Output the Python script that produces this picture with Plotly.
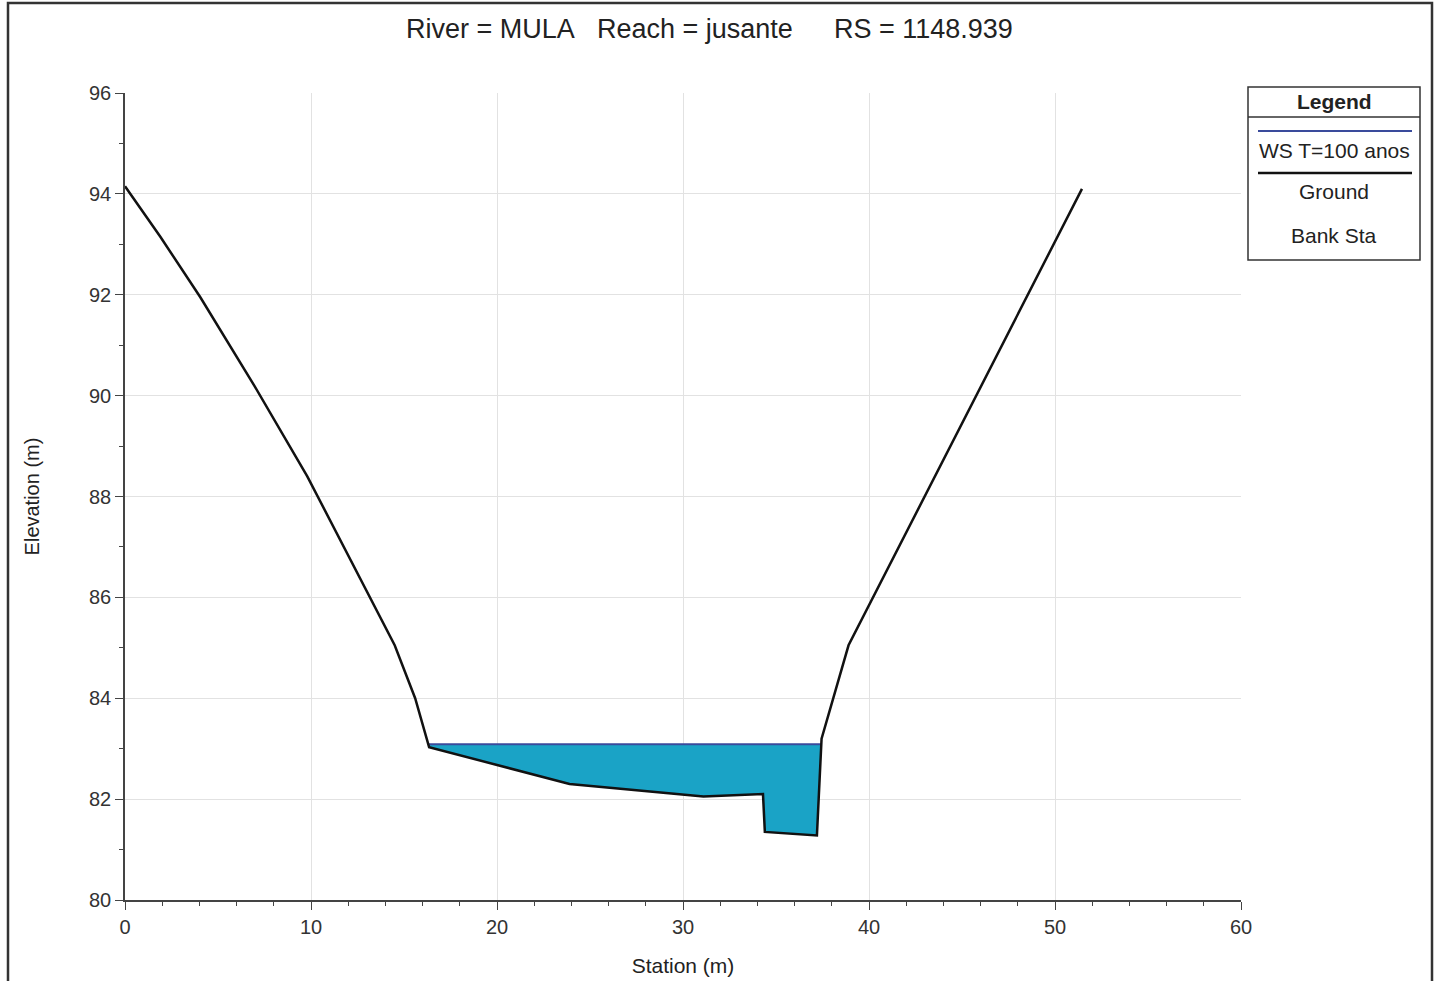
import plotly.graph_objects as go

# cross-section RS 1148.939
station = [0, 1.9, 4.05, 6.95, 9.8, 14.5, 15.6, 16.35, 23.9, 31.1, 34.3, 34.4, 37.2, 37.45, 38.9, 51.45]
elevation = [94.15, 93.15, 91.95, 90.2, 88.4, 85.05, 84.0, 83.03, 82.3, 82.05, 82.1, 81.35, 81.28, 83.2, 85.05, 94.1]
ws_elev = 83.09
ws_name = "WS T=100 anos"

x_ticks = [0, 10, 20, 30, 40, 50, 60]
y_ticks = [80, 82, 84, 86, 88, 90, 92, 94, 96]

# water polygon: ground points under the WS plus the crossings
wx, wy = [], []
for i in range(len(station) - 1):
    x0, y0, x1, y1 = station[i], elevation[i], station[i + 1], elevation[i + 1]
    if y0 <= ws_elev:
        wx.append(x0)
        wy.append(y0)
    if (y0 - ws_elev) * (y1 - ws_elev) < 0:
        t = (ws_elev - y0) / (y1 - y0)
        wx.append(x0 + t * (x1 - x0))
        wy.append(ws_elev)
wx.append(wx[0])
wy.append(wy[0])

FONT = "Liberation Sans, Arial, sans-serif"
WS_FILL = "#1AA3C6"
WS_LINE = "#3A4B9C"

fig = go.Figure()
fig.add_trace(go.Scatter(x=wx, y=wy, fill="toself", fillcolor=WS_FILL, mode="lines",
                         line=dict(width=0), hoverinfo="skip", showlegend=False))
fig.add_trace(go.Scatter(x=[min(wx), max(wx)], y=[ws_elev, ws_elev], mode="lines",
                         line=dict(color=WS_LINE, width=2), name=ws_name, showlegend=False))
fig.add_trace(go.Scatter(x=station, y=elevation, mode="lines",
                         line=dict(color="#111111", width=2.5), name="Ground", showlegend=False))

axis_common = dict(showline=True, linecolor="#444", linewidth=1.5, mirror=False,
                   showgrid=True, gridcolor="#e2e2e2", gridwidth=1, zeroline=False,
                   ticks="outside", ticklen=8, tickcolor="#444", tickwidth=1.2, automargin=False,
                   tickfont=dict(family=FONT, size=20, color="#333"))

fig.update_xaxes(range=[0, 60], tickvals=x_ticks,
                 minor=dict(dtick=2, ticks="outside", ticklen=4, tickcolor="#444", showgrid=False),
                 title=dict(text="Station (m)", font=dict(family=FONT, size=21, color="#222"), standoff=22),
                 **axis_common)
fig.update_yaxes(range=[80, 96], tickvals=y_ticks,
                 minor=dict(dtick=1, ticks="outside", ticklen=4, tickcolor="#444", showgrid=False),
                 title=dict(text="Elevation (m)", font=dict(family=FONT, size=20, color="#222"), standoff=44),
                 **axis_common)


def px(xp):
    return (xp - 125) / 1116


def py(yp):
    return (900 - yp) / 807


shapes = [
    # page frame
    dict(type="rect", xref="paper", yref="paper", x0=px(8), x1=px(1432), y0=py(990), y1=py(3),
         line=dict(color="#333", width=2.5)),
    # legend box
    dict(type="rect", xref="paper", yref="paper", x0=px(1248), x1=px(1420), y0=py(260), y1=py(87),
         line=dict(color="#333", width=1.5), fillcolor="white"),
    dict(type="line", xref="paper", yref="paper", x0=px(1248), x1=px(1420), y0=py(117), y1=py(117),
         line=dict(color="#333", width=1.5)),
    dict(type="line", xref="paper", yref="paper", x0=px(1258), x1=px(1412), y0=py(131), y1=py(131),
         line=dict(color=WS_LINE, width=2)),
    dict(type="line", xref="paper", yref="paper", x0=px(1258), x1=px(1412), y0=py(173), y1=py(173),
         line=dict(color="#111", width=2.5)),
]

annotations = [
    dict(text="River = MULA", x=px(404), y=py(29)),
    dict(text="Reach = jusante", x=px(595), y=py(29)),
    dict(text="RS = 1148.939", x=px(832), y=py(29)),
]
for a in annotations:
    a.update(xref="paper", yref="paper", xanchor="left", yanchor="middle", showarrow=False,
             font=dict(family=FONT, size=27, color="#222"))

legend_text = [("<b>Legend</b>", 101), (ws_name, 150), ("Ground", 192), ("Bank Sta", 236)]
for txt, yp in legend_text:
    annotations.append(dict(text=txt, x=px(1334), y=py(yp), xref="paper", yref="paper",
                            xanchor="center", yanchor="middle", showarrow=False,
                            font=dict(family=FONT, size=21, color="#222")))

fig.update_layout(width=1442, height=981, autosize=False,
                  margin=dict(l=125, r=201, t=93, b=81),
                  paper_bgcolor="white", plot_bgcolor="white",
                  shapes=shapes, annotations=annotations, showlegend=False)

fig.write_html("out.html", config={"displayModeBar": False},
               post_script="document.body.style.margin='0';")
